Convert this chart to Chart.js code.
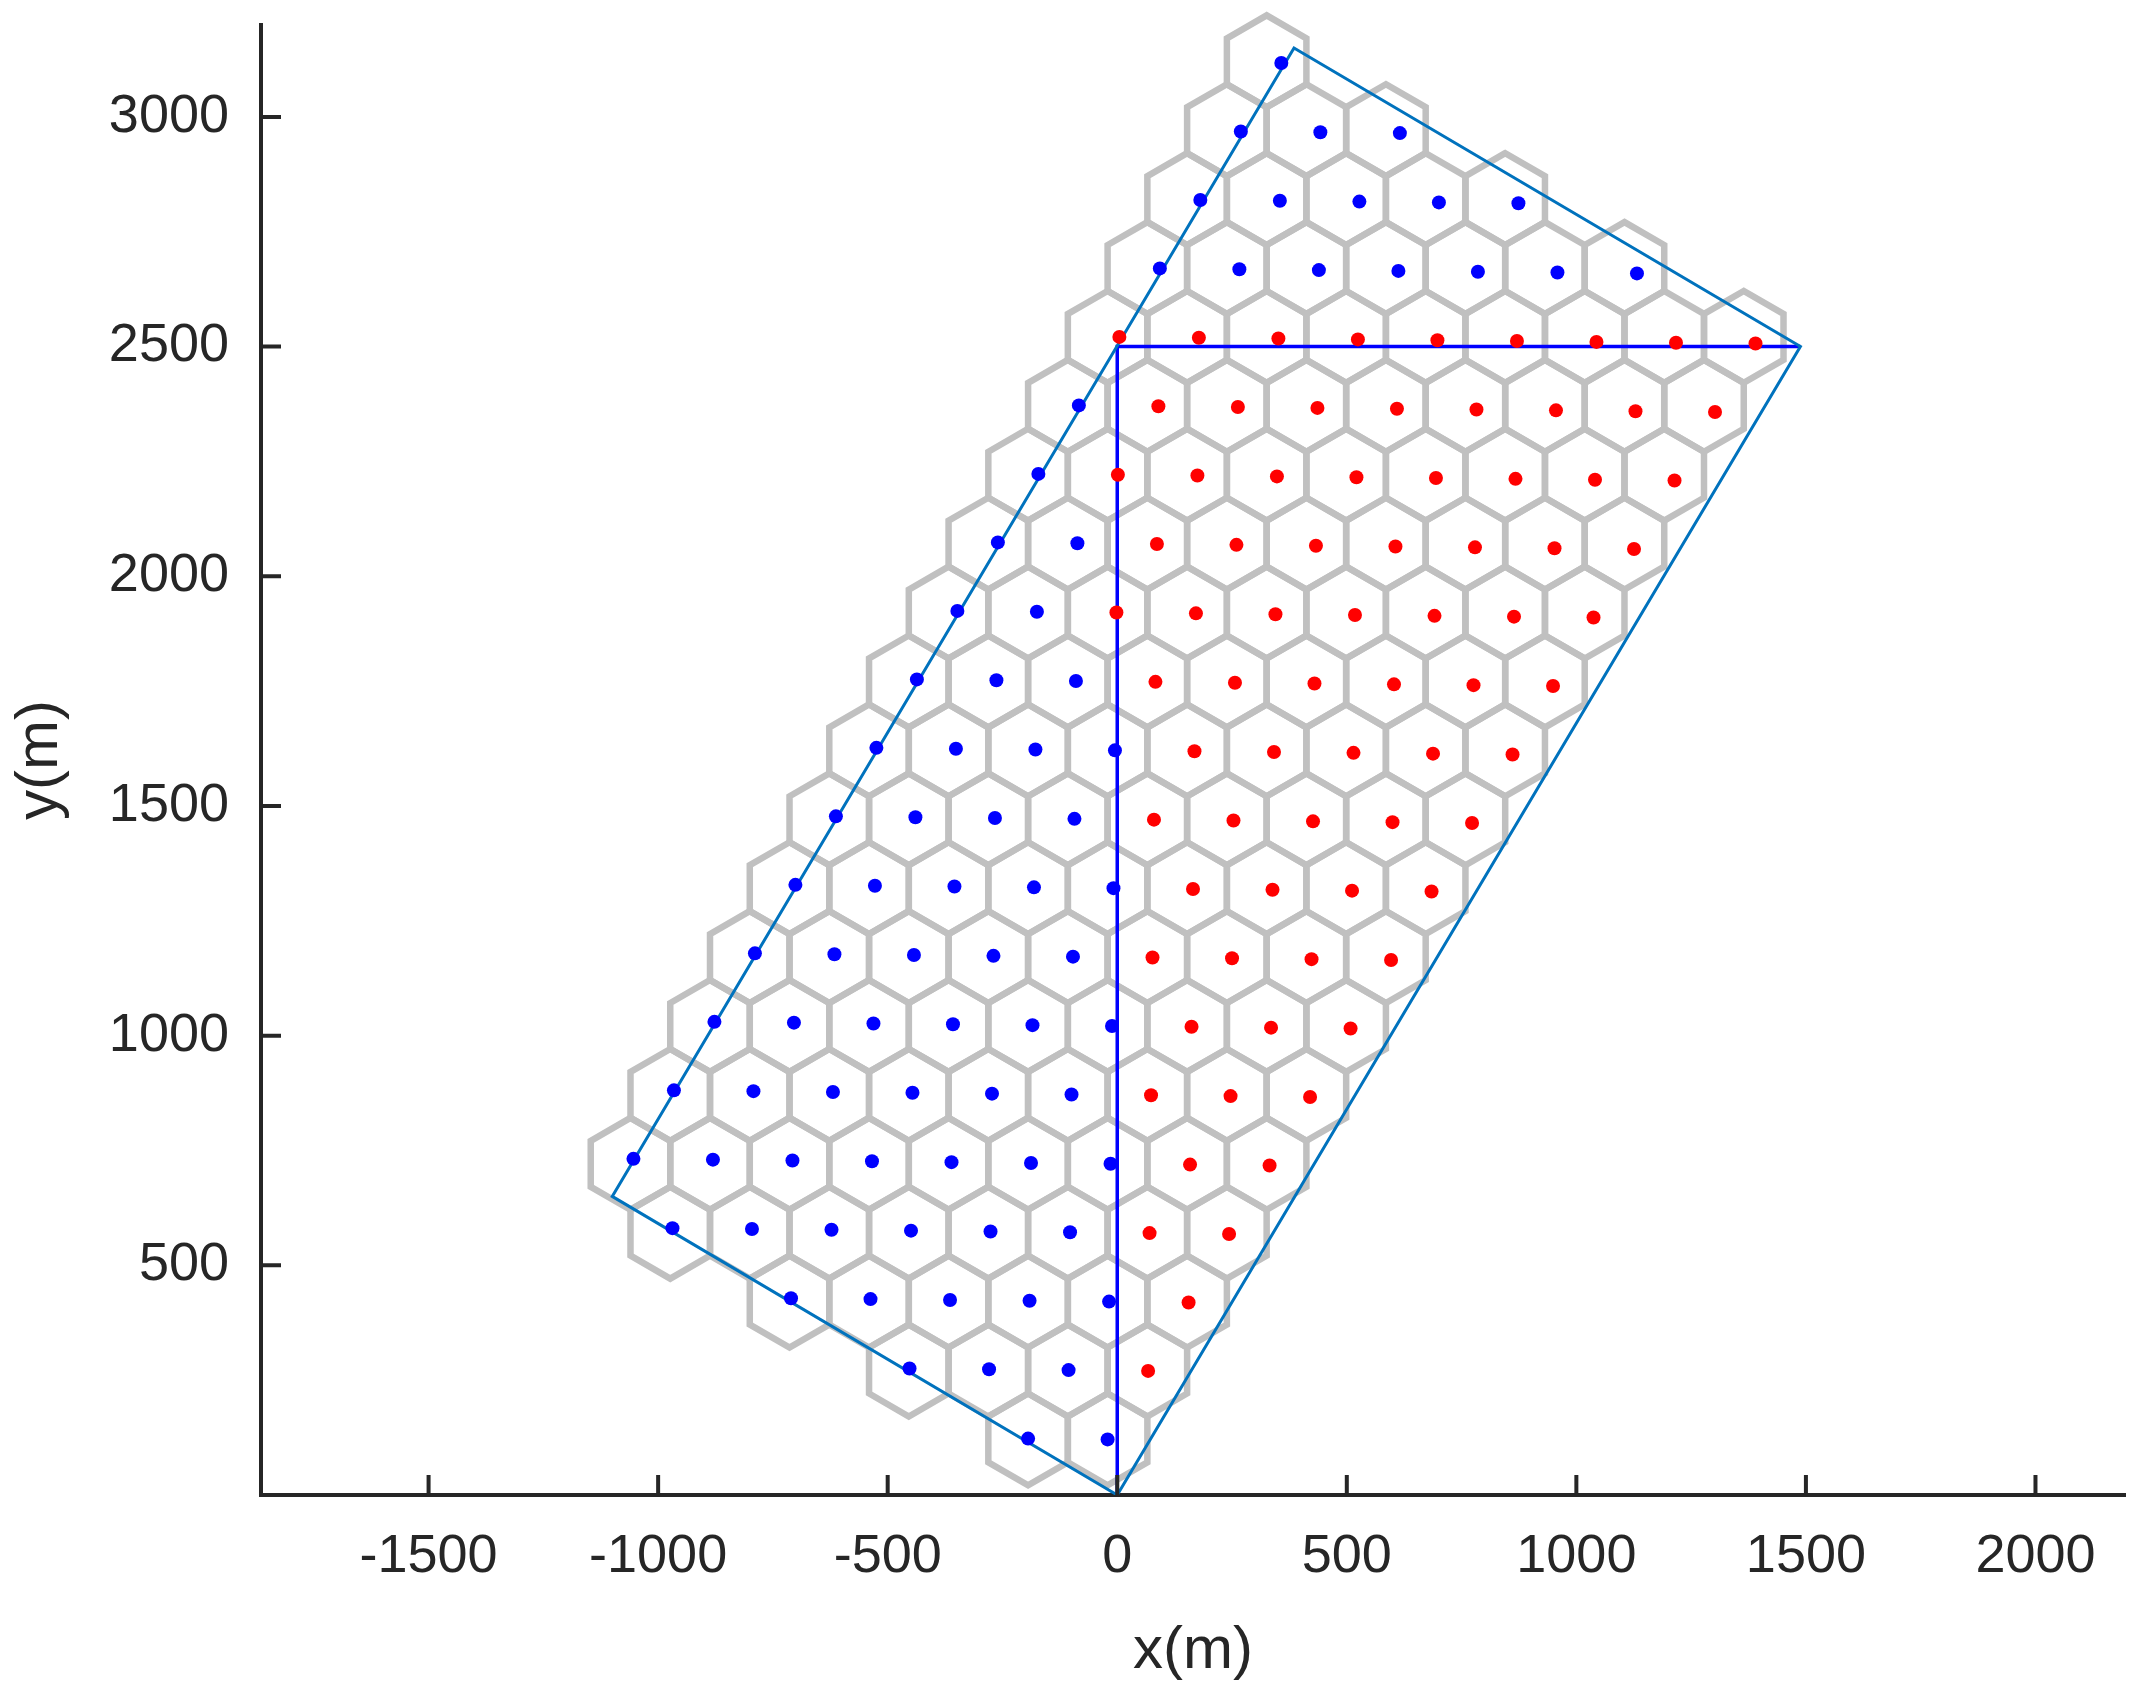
<!DOCTYPE html>
<html><head><meta charset="utf-8">
<script src="https://cdn.jsdelivr.net/npm/chart.js@4/dist/chart.umd.min.js"></script>
<style>html,body{margin:0;padding:0;background:#fff}#w{width:2146px;height:1691px}</style>
</head><body><div id="w"><canvas id="c"></canvas></div>
<script>
// Outer rectangle (m) and inner division lines
const outerX = [0, -1100, 385, 1488, 0];
const outerY = [0, 650, 3150, 2500, 0];
const innerX = [0, 0, 1488];
const innerY = [0, 2500, 2500];
const xTicks = [-1500, -1000, -500, 0, 500, 1000, 1500, 2000];
const yTicks = [500, 1000, 1500, 2000, 2500, 3000];
// Hexagonal cell lattice
const latticeOrigin = [-21, 121];     // lowest cell centre
const colStep = [173.2, -1.8];        // neighbour in row (dots, slightly rotated)
const rowStep = [88.2, 149.1];        // next row up
const hexRadius = 100;
const rowsJ = [-2,-1,0,1,2,3,4,5,6,7,8,9,10,11,12,13,14,15,16,17,18,19,20,21,22];
const colsI = [-20,-19,-18,-17,-16,-15,-14,-13,-12,-11,-10,-9,-8,-7,-6,-5,-4,-3,-2,-1,0,1,2,3,4,5,6,7,8,9,10];

function inside(x,y){
  const pts=[[0,0],[-1100,650],[385,3150],[1488,2500]];
  const tol=12;
  for(let k=0;k<4;k++){
    const a=pts[k],b=pts[(k+1)%4];
    const dx=b[0]-a[0],dy=b[1]-a[1],L=Math.hypot(dx,dy);
    const cr=(dx*(y-a[1])-dy*(x-a[0]))/L;
    if(cr> tol) return false;
  }
  return true;
}
const redPts=[],bluePts=[],hexCenters=[];
for(const j of rowsJ) for(const i of colsI){
  const x=latticeOrigin[0]+i*colStep[0]+j*rowStep[0];
  const y=latticeOrigin[1]+i*colStep[1]+j*rowStep[1];
  if(!inside(x,y)) continue;
  const hx=latticeOrigin[0]+i*173.2+j*86.6, hy=latticeOrigin[1]+j*150;
  hexCenters.push([hx,hy]);
  if(x>-4 && y<2522) redPts.push({x,y}); else bluePts.push({x,y});
}
const F='Liberation Sans, Arial, sans-serif';
const hexPlugin={id:'hex',beforeDatasetsDraw(ch){
  const {ctx,scales:{x:sx,y:sy}}=ch;
  ctx.save();ctx.strokeStyle='#c0c0c0';ctx.lineWidth=6.5;ctx.lineJoin='miter';
  for(const [cx,cy] of hexCenters){
    ctx.beginPath();
    for(let k=0;k<6;k++){
      const a=Math.PI/2+k*Math.PI/3;
      const px=sx.getPixelForValue(cx+hexRadius*Math.cos(a));
      const py=sy.getPixelForValue(cy+hexRadius*Math.sin(a));
      k?ctx.lineTo(px,py):ctx.moveTo(px,py);
    }
    ctx.closePath();ctx.stroke();
  }
  ctx.restore();
},afterDraw(ch){
  const {ctx,chartArea:ca,scales:{x:sx,y:sy}}=ch;
  ctx.save();ctx.strokeStyle='#262626';ctx.lineWidth=4;
  ctx.beginPath();
  for(const t of xTicks){const p=sx.getPixelForValue(t);ctx.moveTo(p,ca.bottom);ctx.lineTo(p,ca.bottom-20);}
  for(const t of yTicks){const p=sy.getPixelForValue(t);ctx.moveTo(ca.left,p);ctx.lineTo(ca.left+20,p);}
  ctx.stroke();ctx.restore();
}};
const lineDs=(xs,ys,col,w)=>({type:'line',data:xs.map((v,k)=>({x:v,y:ys[k]})),borderColor:col,borderWidth:w,pointRadius:0,fill:false,tension:0});
new Chart(document.getElementById('c'),{
  type:'scatter',
  data:{datasets:[
    {data:redPts,backgroundColor:'#ff0000',borderWidth:0,pointRadius:7},
    {data:bluePts,backgroundColor:'#0000ff',borderWidth:0,pointRadius:7},
    lineDs(outerX,outerY,'#0072bd',3),
    lineDs(innerX,innerY,'#0000ff',3.5)
  ]},
  plugins:[hexPlugin],
  options:{responsive:true,maintainAspectRatio:false,animation:false,
    layout:{padding:{top:25,right:21,left:0,bottom:0}},
    plugins:{legend:{display:false},tooltip:{enabled:false}},
    scales:{
      x:{type:'linear',min:-1865,max:2195,
        afterBuildTicks(s){s.ticks=xTicks.map(v=>({value:v}));},
        afterFit(s){s.height=196;s.paddingLeft=0;s.paddingRight=0;},
        grid:{display:false},border:{display:true,color:'#262626',width:4},
        ticks:{color:'#262626',font:{family:F,size:54},padding:22,maxRotation:0,callback:v=>String(v)},
        title:{display:true,text:'x(m)',color:'#262626',font:{family:F,size:60},padding:{top:0}}},
      y:{type:'linear',min:0,max:3200,
        afterBuildTicks(s){s.ticks=yTicks.map(v=>({value:v}));},
        afterFit(s){s.width=261;s.paddingTop=0;s.paddingBottom=0;},
        grid:{display:false},border:{display:true,color:'#262626',width:4},
        ticks:{color:'#262626',font:{family:F,size:54},padding:24,callback:v=>String(v)},
        title:{display:true,text:'y(m)',color:'#262626',font:{family:F,size:60},padding:{bottom:0}}}
    }}
});
</script></body></html>
